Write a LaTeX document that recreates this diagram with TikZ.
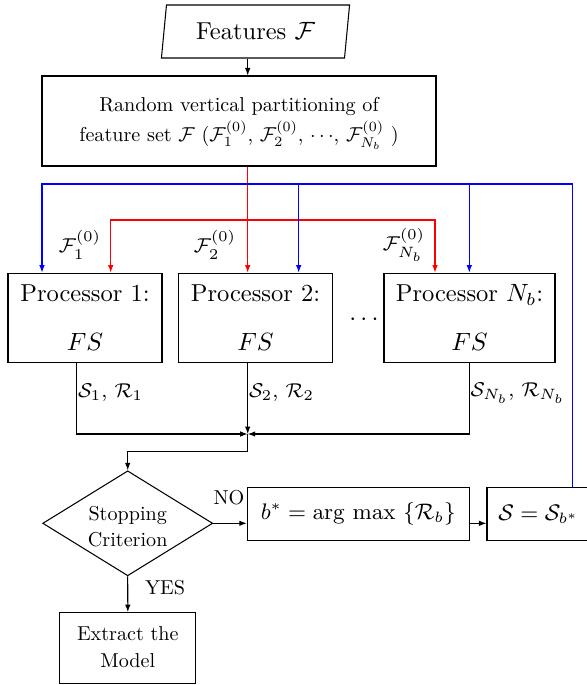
\documentclass[tikz,border=0pt]{standalone}
\usepackage{graphicx}
\usetikzlibrary{shapes.geometric,arrows.meta}
\tikzset{
  ln/.style={line width=0.42pt},
  box/.style={draw,ln,inner sep=0pt,align=center},
  big/.style={font=\fontsize{9.8}{19.6}\selectfont},
  sc/.style={font=\fontsize{10}{14.4}\selectfont,inner sep=0pt},
  lab/.style={font=\fontsize{8.2}{10}\selectfont,inner sep=0pt},
  mth/.style={font=\fontsize{8.9}{11}\selectfont},
  arr/.style={ln,-{Latex[length=3pt,width=2.2pt]}},
}
\begin{document}
\begin{tikzpicture}[x=0.4pt,y=-0.4pt]
\useasboundingbox (0,0) rectangle (586,685);

% nodes
\node[box,minimum width=75.6pt,minimum height=21.2pt,trapezium,trapezium left angle=79,trapezium right angle=101,trapezium stretches=true,big] (feat) at (255.5,31.5) {Features $\mathcal{F}$};
\node[box,minimum width=157.6pt,minimum height=36pt,font=\fontsize{10}{14.2}\selectfont] (part) at (239,121) {\scalebox{0.805}{\begin{tabular}{@{}c@{}}Random vertical partitioning of\\ feature set $\mathcal{F}$ ($\mathcal{F}_1^{(0)}$, $\mathcal{F}_2^{(0)}$, $\cdots$, $\mathcal{F}_{N_b}^{(0)}$ )\end{tabular}}};

\node[box,minimum width=61.6pt,minimum height=35.6pt,big] (p1) at (85,317.7) {Processor 1:\\$FS$};
\node[box,minimum width=61.76pt,minimum height=35.6pt,big] (p2) at (255.5,317.7) {Processor 2:\\$FS$};
\node[box,minimum width=68.4pt,minimum height=35.6pt,big] (pN) at (469.5,317.7) {Processor $N_b$:\\$FS$};
\node[big,inner sep=0pt] (dots) at (364,320) {$\cdots$};

\node[lab] (f1) at (80,245) {$\mathcal{F}_1^{(0)}$};
\node[lab] (f2) at (215,245) {$\mathcal{F}_2^{(0)}$};
\node[lab] (fN) at (404,245) {$\mathcal{F}_{N_b}^{(0)}$};

\node[lab,anchor=west] (o1) at (77.5,393) {$\mathcal{S}_1$, $\mathcal{R}_1$};
\node[lab,anchor=west] (o2) at (248.5,393) {$\mathcal{S}_2$, $\mathcal{R}_2$};
\node[lab,anchor=west] (oN) at (470,393) {$\mathcal{S}_{N_b}$, $\mathcal{R}_{N_b}$};

\node[draw,ln,diamond,aspect=1.62,minimum width=68pt,minimum height=42pt,inner sep=0pt] (d) at (127.7,523.3) {};
\node[sc,font=\fontsize{10}{12.9}\selectfont] (dt) at (127.7,528) {\scalebox{0.805}{\begin{tabular}{@{}c@{}}Stopping\\Criterion\end{tabular}}};

\node[box,minimum width=88.8pt,minimum height=21.3pt,mth] (b) at (358.3,514.3) {$b^* = \mathrm{arg\ max}\ \{\mathcal{R}_b\}$};
\node[box,minimum width=41.2pt,minimum height=21.3pt,mth] (s) at (538.5,514.3) {$\mathcal{S} = \mathcal{S}_{b^*}$};
\node[box,minimum width=54.3pt,minimum height=28.5pt,font=\fontsize{10}{13.5}\selectfont] (ex) at (127.8,648.3) {\scalebox{0.805}{\begin{tabular}{@{}c@{}}Extract the\\Model\end{tabular}}};

\node[sc] (no) at (229,498) {\scalebox{0.805}{NO}};
\node[sc] (yes) at (165,588) {\scalebox{0.805}{YES}};

% helper coordinates
\coordinate (xa) at (247.7,0);
\coordinate (ry) at (0,220);
\coordinate (by) at (0,184);
\coordinate (xr1) at (110.7,0);
\coordinate (xrN) at (435,0);
\coordinate (xb1) at (42,0);
\coordinate (xb2) at (298.7,0);
\coordinate (xbN) at (469.3,0);
\coordinate (xbs) at (572.3,0);
\coordinate (xo1) at (76.7,0);
\coordinate (xoN) at (469.3,0);
\coordinate (m) at (247.7,434);
\coordinate (mm) at (247.7,451.7);
\coordinate (bc) at (xbs |- by);

% connectors
\draw[arr] (xa |- feat.south) -- (xa |- part.north);
\draw[arr,red] (xa |- part.south) -- (xa |- p2.north);
\draw[arr,red] (xa |- ry) -| (xr1 |- p1.north);
\draw[arr,red] (xa |- ry) -| (xrN |- pN.north);
\draw[arr,blue] (xbs |- s.north) -- (bc) -| (xb1 |- p1.north);
\draw[arr,blue] (xb2 |- by) -- (xb2 |- p2.north);
\draw[arr,blue] (xbN |- by) -- (xbN |- pN.north);
\draw[arr] (xo1 |- p1.south) |- (m);
\draw[arr] (xa |- p2.south) -- (m);
\draw[arr] (xoN |- pN.south) |- (m);
\draw[arr] (m) -- (mm) -| (d.north);
\draw[arr] (d.east) -- (d.east -| b.west);
\draw[arr] (d.east -| b.east) -- (d.east -| s.west);
\draw[arr] (d.south) -- (ex.north);
\end{tikzpicture}
\end{document}
